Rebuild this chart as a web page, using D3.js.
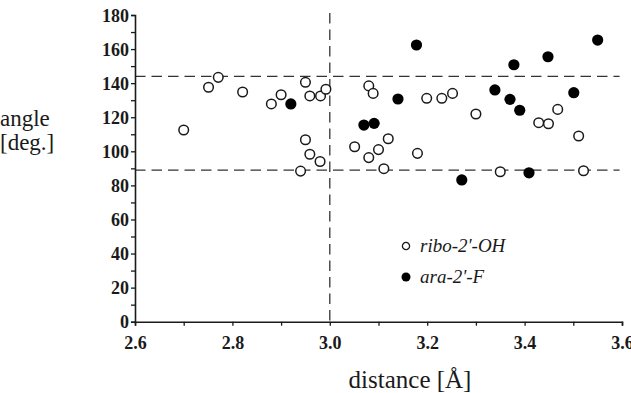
<!DOCTYPE html>
<html>
<head>
<meta charset="utf-8">
<script src="https://cdn.jsdelivr.net/npm/d3@7"></script>
<style>
    body { margin: 0; background: #fff; }
    svg { display: block; }
</style>
</head>
<body>
<svg id="chart"></svg>
<script>
// ribo-2'-OH points (open circles)
const riboDistance = [2.70, 2.751, 2.771, 2.821, 2.880, 2.900, 2.950, 2.959, 2.981, 2.992,
    2.950, 2.959, 2.980, 2.940, 3.051, 3.080, 3.089, 3.199, 3.230, 3.252,
    3.300, 3.429, 3.449, 3.468, 3.511, 3.120, 3.100, 3.080, 3.111, 3.180, 3.350, 3.521];
const riboAngle = [112.5, 137.6, 143.4, 134.8, 127.8, 133.2, 140.5, 132.5, 132.5, 136.4,
    106.8, 98.3, 94.0, 88.4, 102.7, 138.4, 134.0, 131.1, 131.1, 134.0,
    121.9, 116.8, 116.2, 124.6, 109.0, 107.4, 101.0, 96.3, 89.8, 98.8, 88.0, 88.6];

// ara-2'-F points (filled circles)
const araDistance = [2.920, 3.070, 3.091, 3.140, 3.178, 3.271, 3.339, 3.370, 3.378, 3.390,
    3.409, 3.448, 3.501, 3.550];
const araAngle = [127.8, 115.4, 116.4, 130.7, 162.4, 83.2, 136.0, 130.5, 150.8, 124.1,
    87.4, 155.5, 134.4, 165.3];

// axis ticks and reference lines
const xTickLabels = [2.6, 2.8, 3.0, 3.2, 3.4, 3.6];
const yTickLabels = [0, 20, 40, 60, 80, 100, 120, 140, 160, 180];
const refAngles = [144, 89];
const refDistance = 3.0;

const width = 631, height = 393;

const svg = d3.select("#chart")
    .attr("width", width)
    .attr("height", height);

const x = d3.scaleLinear().domain([2.6, 3.6]).range([135, 622]);
const y = d3.scaleLinear().domain([0, 180]).range([321.7, 15]);

const ink = "#1a1a1a";
const serif = "'Liberation Serif', 'Times New Roman', serif";

// Dashed reference lines
svg.selectAll(".hline")
    .data(refAngles)
    .enter()
    .append("line")
    .attr("x1", x(2.6))
    .attr("x2", x(3.595))
    .attr("y1", d => y(d))
    .attr("y2", d => y(d))
    .style("stroke", "#333")
    .style("stroke-width", "1.3px")
    .style("stroke-dasharray", "10.5,6");

svg.append("line")
    .attr("x1", x(refDistance))
    .attr("x2", x(refDistance))
    .attr("y1", y(180) - 2)
    .attr("y2", y(0))
    .style("stroke", "#333")
    .style("stroke-width", "1.3px")
    .style("stroke-dasharray", "10.5,6");

// Y axis: labels every 20, ticks every 10
const yAxis = svg.append("g")
    .attr("transform", `translate(${x(2.6)},0)`)
    .call(d3.axisLeft(y).tickValues(d3.range(0, 181, 10)).tickSize(4)
        .tickFormat(d => yTickLabels.includes(d) ? d : ""));

// X axis: labels every 0.2, ticks every 0.1
const xAxis = svg.append("g")
    .attr("transform", `translate(0,${y(0)})`)
    .call(d3.axisBottom(x).tickValues(d3.range(26, 37).map(d => d / 10)).tickSize(4)
        .tickFormat(d => xTickLabels.some(t => Math.abs(t - d) < 1e-6) ? d3.format(".1f")(d) : ""));

[xAxis, yAxis].forEach(g => {
    g.select(".domain").style("stroke", ink).style("stroke-width", "1.6px");
    g.selectAll(".tick line").style("stroke", ink).style("stroke-width", "1.3px");
    g.selectAll(".tick text")
        .style("font-family", serif)
        .style("font-weight", "bold")
        .style("font-size", "18px")
        .style("fill", ink);
});
yAxis.selectAll(".tick text").attr("x", -6).attr("dy", "0.34em");
xAxis.selectAll(".tick text").attr("y", 15);

// Points
svg.selectAll(".ribo")
    .data(riboDistance.map((d, i) => [d, riboAngle[i]]))
    .enter()
    .append("circle")
    .attr("class", "ribo")
    .attr("cx", d => x(d[0]))
    .attr("cy", d => y(d[1]))
    .attr("r", 4.8)
    .style("fill", "#fff")
    .style("stroke", ink)
    .style("stroke-width", "1.5px");

svg.selectAll(".ara")
    .data(araDistance.map((d, i) => [d, araAngle[i]]))
    .enter()
    .append("circle")
    .attr("class", "ara")
    .attr("cx", d => x(d[0]))
    .attr("cy", d => y(d[1]))
    .attr("r", 5.6)
    .style("fill", "#000");

// Legend
const legend = svg.append("g").attr("transform", "translate(406,246)");
legend.append("circle").attr("cx", 0).attr("cy", 0).attr("r", 3.6)
    .style("fill", "#fff").style("stroke", ink).style("stroke-width", "1.3px");
legend.append("circle").attr("cx", 0).attr("cy", 31).attr("r", 4.5)
    .style("fill", "#000");
legend.selectAll("text")
    .data(["ribo-2'-OH", "ara-2'-F"])
    .enter()
    .append("text")
    .attr("x", 14)
    .attr("y", (d, i) => i * 31 + 6)
    .text(d => d)
    .style("font-family", serif)
    .style("font-style", "italic")
    .style("font-size", "19px")
    .style("fill", ink);

// Axis titles
svg.append("text").attr("x", 0).attr("y", 126).text("angle")
    .style("font-family", serif).style("font-size", "23px").style("fill", ink);
svg.append("text").attr("x", 0).attr("y", 150).text("[deg.]")
    .style("font-family", serif).style("font-size", "23px").style("fill", ink);
svg.append("text").attr("x", 410).attr("y", 388).attr("text-anchor", "middle").text("distance [Å]")
    .style("font-family", serif).style("font-size", "25px").style("fill", ink);
</script>
</body>
</html>
